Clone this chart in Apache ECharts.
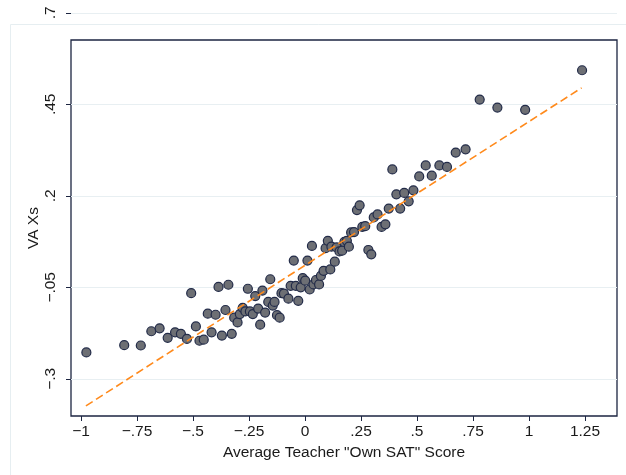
<!DOCTYPE html>
<html lang="en">
<head>
    <meta charset="UTF-8">
    <title>VA Xs vs Own SAT</title>
    <script src="https://cdn.jsdelivr.net/npm/echarts@6.0.0/dist/echarts.min.js"></script>
    <style>
        html, body { margin: 0; padding: 0; background: #fff; }
        #container { width: 626px; height: 475px; }
    </style>
</head>
<body>
<div id="container"></div>
<script type="text/javascript">
    // binned means
    var satScore = [-0.976, -0.807, -0.733, -0.686, -0.649, -0.613, -0.580, -0.554, -0.527, -0.508,
        -0.487, -0.471, -0.452, -0.434, -0.417, -0.399, -0.386, -0.371, -0.355, -0.342,
        -0.327, -0.316, -0.301, -0.291, -0.278, -0.266, -0.255, -0.246, -0.233, -0.222,
        -0.209, -0.200, -0.190, -0.178, -0.164, -0.155, -0.144, -0.136, -0.125, -0.113,
        -0.105, -0.094, -0.074, -0.064, -0.050, -0.041, -0.030, -0.019, -0.010, 0.001,
        0.011, 0.021, 0.031, 0.038, 0.049, 0.063, 0.071, 0.083, 0.092, 0.102,
        0.113, 0.118, 0.133, 0.141, 0.154, 0.166, 0.176, 0.187, 0.196, 0.206,
        0.219, 0.232, 0.244, 0.256, 0.269, 0.283, 0.296, 0.307, 0.324, 0.342,
        0.359, 0.374, 0.390, 0.408, 0.425, 0.443, 0.463, 0.484, 0.510, 0.539,
        0.566, 0.600, 0.634, 0.673, 0.717, 0.780, 0.859, 0.983, 1.237];
    var vaXs = [-0.228, -0.208, -0.209, -0.170, -0.162, -0.188, -0.173, -0.177, -0.191, -0.066,
        -0.157, -0.196, -0.193, -0.122, -0.173, -0.125, -0.049, -0.182, -0.112, -0.043,
        -0.177, -0.133, -0.146, -0.123, -0.106, -0.116, -0.054, -0.116, -0.123, -0.074,
        -0.108, -0.152, -0.059, -0.119, -0.090, -0.028, -0.100, -0.090, -0.126, -0.133,
        -0.066, -0.067, -0.081, -0.046, 0.023, -0.046, -0.087, -0.050, -0.025, -0.032,
        0.023, -0.056, 0.063, -0.042, -0.030, -0.042, -0.019, -0.005, 0.057, 0.077,
        -0.001, 0.061, 0.020, 0.059, 0.048, 0.050, 0.074, 0.077, 0.061, 0.100,
        0.101, 0.161, 0.174, 0.115, 0.117, 0.052, 0.040, 0.141, 0.149, 0.115,
        0.122, 0.165, 0.272, 0.204, 0.165, 0.208, 0.185, 0.215, 0.253, 0.283,
        0.255, 0.283, 0.279, 0.318, 0.327, 0.463, 0.441, 0.435, 0.543];

    // fitted line end points
    var fitX = [-0.978, 1.235];
    var fitY = [-0.374, 0.495];

    var xTicks = [-1, -0.75, -0.5, -0.25, 0, 0.25, 0.5, 0.75, 1, 1.25];
    var xTickLabels = ['\u22121', '\u2212.75', '\u2212.5', '\u2212.25', '0', '.25', '.5', '.75', '1', '1.25'];
    var yTicks = [-0.3, -0.05, 0.2, 0.45, 0.7];
    var yTickLabels = ['\u2212.3', '\u2212.05', '.2', '.45', '.7'];

    var dom = document.getElementById("container");
    var myChart = echarts.init(dom, null, {renderer: 'canvas'});

    var points = [];
    for (var i = 0; i < satScore.length; i++) {
        points.push([satScore[i], vaXs[i]]);
    }
    var fitPoints = [];
    for (var j = 0; j < fitX.length; j++) {
        fitPoints.push([fitX[j], fitY[j]]);
    }

    var font = 'Liberation Sans';
    var ink = '#1a1a1a';
    var frame = '#1c2541';

    var option = {
        animation: false,
        backgroundColor: '#fff',
        textStyle: {fontFamily: font},
        graphic: [{
            type: 'rect',
            shape: {x: 10.5, y: 24.5, width: 700, height: 500},
            style: {fill: null, stroke: '#e6eef1', lineWidth: 1},
            z: -1
        }],
        grid: [{
            left: 71, right: 9, top: 12.8, bottom: 59,
            outerBoundsMode: 'none'
        }, {
            left: 71, right: 9, top: 40, bottom: 59,
            outerBoundsMode: 'none',
            show: true,
            borderColor: frame,
            borderWidth: 1.3,
            backgroundColor: 'transparent'
        }],
        xAxis: [{
            type: 'value',
            gridIndex: 0,
            position: 'bottom',
            min: -1.0446,
            max: 1.393,
            axisLine: {show: false, onZero: false},
            splitLine: {show: false},
            axisTick: {
                show: true,
                length: 5,
                customValues: xTicks,
                lineStyle: {color: frame, width: 1}
            },
            axisLabel: {
                customValues: xTicks,
                margin: 8,
                fontSize: 15.5,
                color: ink,
                fontFamily: font,
                formatter: function (v) {
                    return xTickLabels[xTicks.indexOf(v)];
                }
            },
            name: 'Average Teacher "Own SAT" Score',
            nameLocation: 'middle',
            nameGap: 25,
            nameTextStyle: {fontSize: 15.5, color: ink, fontFamily: font}
        }, {
            type: 'value',
            gridIndex: 1,
            min: 0, max: 1,
            show: false
        }],
        yAxis: [{
            type: 'value',
            gridIndex: 0,
            position: 'left',
            min: -0.4016,
            max: 0.7,
            axisLine: {show: false, onZero: false},
            axisTick: {
                show: true,
                length: 5,
                customValues: yTicks,
                lineStyle: {color: frame, width: 1}
            },
            splitLine: {
                show: true,
                lineStyle: {color: '#e8eff2', width: 1.2}
            },
            axisLabel: {
                customValues: yTicks,
                rotate: 90,
                margin: 12,
                fontSize: 15.5,
                color: ink,
                fontFamily: font,
                formatter: function (v) {
                    return yTickLabels[yTicks.indexOf(v)];
                }
            }
        }, {
            type: 'value',
            gridIndex: 1,
            min: 0, max: 1,
            axisLine: {show: false, onZero: false},
            axisTick: {show: false},
            axisLabel: {show: false},
            splitLine: {show: false},
            name: 'VA Xs',
            nameLocation: 'middle',
            nameRotate: 90,
            nameGap: 29,
            nameTextStyle: {fontSize: 15.5, color: ink, fontFamily: font}
        }],
        series: [{
            name: 'VA Xs',
            type: 'scatter',
            xAxisIndex: 0,
            yAxisIndex: 0,
            symbol: 'circle',
            symbolSize: 9,
            itemStyle: {
                color: '#6d6f74',
                borderColor: '#222b48',
                borderWidth: 1.2,
                opacity: 1
            },
            data: points,
            z: 3
        }, {
            name: 'Fitted values',
            type: 'line',
            xAxisIndex: 0,
            yAxisIndex: 0,
            symbol: 'none',
            lineStyle: {
                color: '#ff8a1c',
                width: 1.6,
                type: [8, 4]
            },
            data: fitPoints,
            z: 4
        }]
    };

    if (option && typeof option === "object") {
        myChart.setOption(option, true);
    }
</script>
</body>
</html>
